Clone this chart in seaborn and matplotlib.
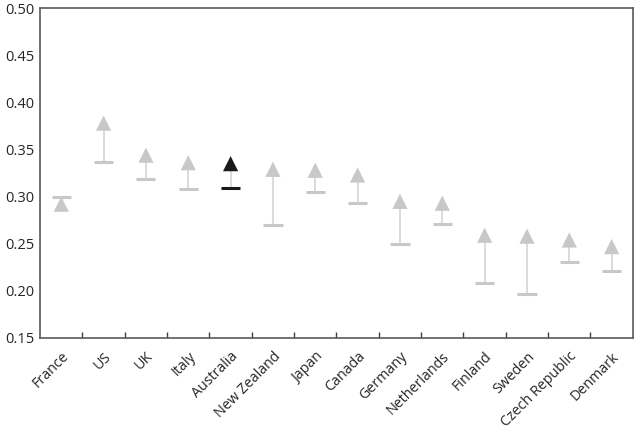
import numpy as np
import pandas as pd
import matplotlib
matplotlib.use("Agg")
import matplotlib.pyplot as plt
import seaborn as sns

countries = ["France", "US", "UK", "Italy", "Australia", "New Zealand", "Japan",
             "Canada", "Germany", "Netherlands", "Finland", "Sweden",
             "Czech Republic", "Denmark"]
# dash = starting value, triangle = later value
start_vals = [0.300, 0.337, 0.319, 0.308, 0.309, 0.270, 0.305,
              0.293, 0.250, 0.271, 0.208, 0.197, 0.231, 0.221]
end_vals = [0.292, 0.378, 0.344, 0.336, 0.335, 0.329, 0.328,
            0.323, 0.295, 0.293, 0.259, 0.258, 0.254, 0.247]
highlight = "Australia"

df = pd.DataFrame({"country": countries, "start": start_vals, "end": end_vals})
df["pos"] = np.arange(len(df))
df["group"] = np.where(df["country"] == highlight, "hi", "other")

sns.set_style("white")
plt.rcParams["font.family"] = ["Open Sans", "DejaVu Sans"]

fig, ax = plt.subplots(figsize=(6.36, 4.3), dpi=100)
fig.subplots_adjust(left=0.063, right=0.995, top=0.981, bottom=0.214)

# connector lines (from dash up to triangle base)
ax.vlines(df["pos"], df["start"], df["end"], color="#dadada", lw=1.4, zorder=1)

palette = {"other": "#c8c8c8", "hi": "#1a1a1a"}
sns.scatterplot(data=df, x="pos", y="start", hue="group", palette=palette,
                marker="_", s=190, linewidth=2.2, legend=False, ax=ax, zorder=2)
sns.scatterplot(data=df, x="pos", y="end", hue="group", palette=palette,
                marker="^", s=120, linewidth=0, legend=False, ax=ax, zorder=3)

ax.set_xlim(-0.5, len(df) - 0.5)
ax.set_ylim(0.15, 0.50)
ax.set_yticks(np.arange(0.15, 0.501, 0.05))
ax.set_yticklabels([f"{v:.2f}" for v in np.arange(0.15, 0.501, 0.05)], fontsize=10.5)
ax.set_xticks(df["pos"])
ax.set_xticklabels(countries, rotation=45, ha="right", rotation_mode="anchor", fontsize=10.3)
ax.set_xticks(np.arange(0.5, len(df) - 0.5, 1), minor=True)
ax.tick_params(axis="x", which="major", bottom=True, length=0, pad=8)
ax.tick_params(axis="x", which="minor", bottom=True, direction="in",
               length=4, width=1, color="#404040")
ax.tick_params(axis="y", length=0, pad=4)
ax.set_xlabel("")
ax.set_ylabel("")

for sp in ax.spines.values():
    sp.set_color("#5a5a5a")
    sp.set_linewidth(1.2)

fig.savefig("out.png", dpi=100)
